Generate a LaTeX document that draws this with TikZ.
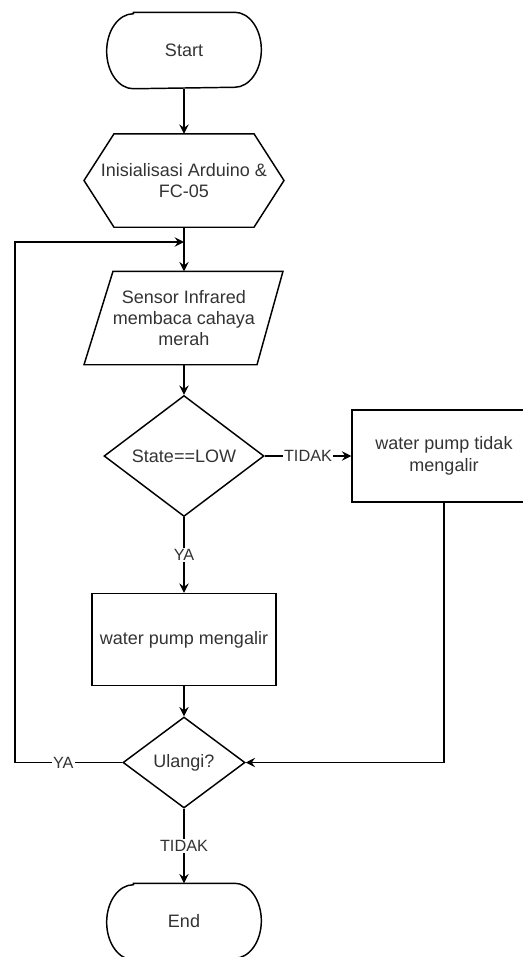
\documentclass[tikz,border=0pt]{standalone}
\usepackage{fontspec}
\setmainfont{Liberation Sans}
\usetikzlibrary{shapes.geometric,arrows.meta}
\begin{document}
\begin{tikzpicture}[x=.75pt,y=-.75pt,line width=1.1pt,
  every node/.style={font=\fontsize{13.5}{16}\selectfont,text=black!80,align=center},
  term/.style={minimum width=116pt,minimum height=56.25pt,inner sep=0pt},
  box/.style={draw,minimum width=138pt,minimum height=69pt},
  decide/.style={draw,diamond,aspect=1.3,inner sep=0pt},
  plain/.style={minimum height=69pt,inner sep=0pt},
  lbl/.style={fill=white,inner sep=1pt,font=\fontsize{12.2}{14}\selectfont},
  arr/.style={-{Stealth[length=7pt,width=7pt,inset=2.5pt]}}]
\useasboundingbox (0,0) rectangle (523,957);
\node[term] (start) at (184,50.5) {Start};
\draw ([xshift=-38pt]start.north) -- ([xshift=38pt]start.north)
  arc[start angle=90,end angle=-90,x radius=20pt,y radius=28.125pt]
  -- ([xshift=-38pt]start.south) arc[start angle=270,end angle=90,x radius=20pt,y radius=28.125pt] -- cycle;
\node[plain] (init) at (184,180.5) {Inisialisasi Arduino \&\\FC-05};
\draw ([xshift=-52.5pt]init.north) -- ([xshift=52.5pt]init.north) -- ([xshift=75pt]init.center)
  -- ([xshift=52.5pt]init.south) -- ([xshift=-52.5pt]init.south) -- ([xshift=-75pt]init.center) -- cycle;
\node[plain] (sensor) at (184,318) {Sensor Infrared\\membaca cahaya\\merah};
\draw ([xshift=-53.25pt]sensor.north) -- ([xshift=74.25pt]sensor.north)
  -- ([xshift=54.75pt]sensor.south) -- ([xshift=-75pt]sensor.south) -- cycle;
\node[decide,minimum width=120pt,minimum height=90.75pt] (cond) at (184,456) {State==LOW};
\node[box] (pumpoff) at (444,456) {water pump tidak\\mengalir};
\node[box] (pumpon) at (184,639.5) {water pump mengalir};
\node[decide,minimum width=91.5pt,minimum height=68.25pt] (ulangi) at (184,762.5) {Ulangi?};
\node[term] (end) at (184,921.5) {End};
\draw ([xshift=-38pt]end.north) -- ([xshift=38pt]end.north)
  arc[start angle=90,end angle=-90,x radius=20pt,y radius=28.125pt]
  -- ([xshift=-38pt]end.south) arc[start angle=270,end angle=90,x radius=20pt,y radius=28.125pt] -- cycle;
\coordinate (loop) at (184,242);
\coordinate (loopx) at (15,242);
\draw[arr] (start.south) -- (init.north);
\draw[arr] (init.south) -- (sensor.north);
\draw[arr] (sensor.south) -- (cond.north);
\draw[arr] (cond.east) -- node[lbl]{TIDAK} (pumpoff.west);
\draw[arr] (cond.south) -- node[lbl]{YA} (pumpon.north);
\draw[arr] (pumpon.south) -- (ulangi.north);
\draw[arr] (pumpoff.south) |- (ulangi.east);
\draw[arr] (ulangi.west) -- node[lbl,pos=.55]{YA} (ulangi.west -| loopx) |- (loop);
\draw[arr] (ulangi.south) -- node[lbl]{TIDAK} (end.north);
\end{tikzpicture}
\end{document}
